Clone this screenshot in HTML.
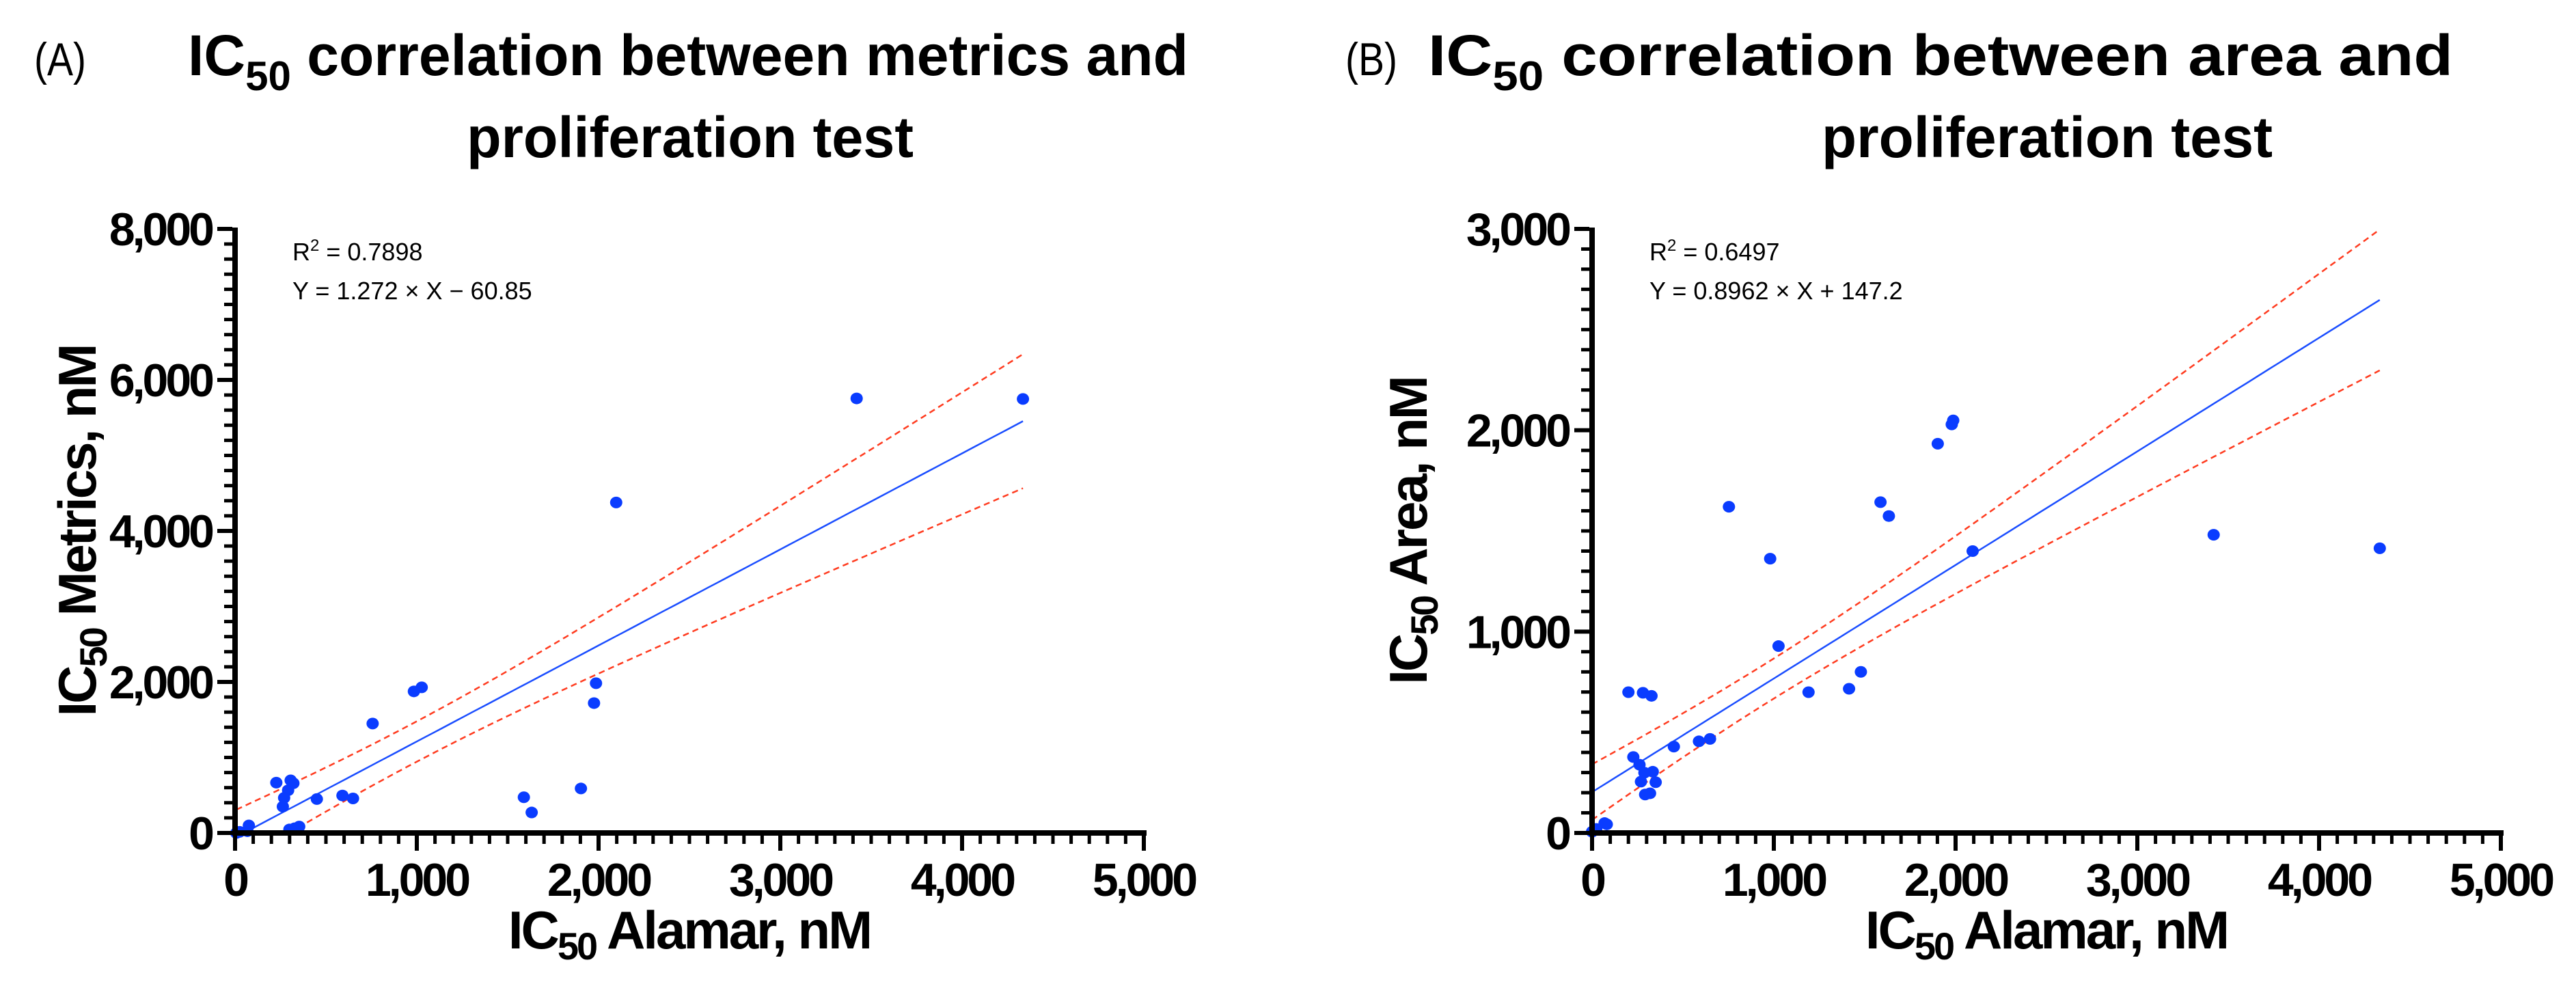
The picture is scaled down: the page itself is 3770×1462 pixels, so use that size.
<!DOCTYPE html>
<html><head><meta charset="utf-8">
<style>
html,body{margin:0;padding:0;background:#fff;}
svg{display:block;font-family:"Liberation Sans",Arial,sans-serif;}
</style></head>
<body>
<svg id="fig" width="3770" height="1462" viewBox="0 0 3770 1462" xmlns="http://www.w3.org/2000/svg">
<defs>
<clipPath id="clipA"><rect x="344" y="330" width="1340" height="889"/></clipPath>
<clipPath id="clipB"><rect x="2330" y="330" width="1340" height="889"/></clipPath>
</defs>
<g>
<text x="50" y="110" font-size="68" textLength="76" lengthAdjust="spacingAndGlyphs">(A)</text>
<text x="275" y="110" font-size="84" font-weight="bold" textLength="1464" lengthAdjust="spacingAndGlyphs">IC<tspan dy="22" font-size="60">50</tspan><tspan dy="-22"> correlation between metrics and</tspan></text>
<text x="683" y="230" font-size="84" font-weight="bold" textLength="654" lengthAdjust="spacingAndGlyphs">proliferation test</text>
</g>
<g>
<text x="1969" y="110" font-size="68" textLength="76" lengthAdjust="spacingAndGlyphs">(B)</text>
<text x="2090" y="110" font-size="84" font-weight="bold" textLength="1500" lengthAdjust="spacingAndGlyphs">IC<tspan dy="22" font-size="60">50</tspan><tspan dy="-22"> correlation between area and</tspan></text>
<text x="2666" y="230" font-size="84" font-weight="bold" textLength="660" lengthAdjust="spacingAndGlyphs">proliferation test</text>
</g>
<g id="chartA"></g>
<g id="chartB"></g>
</svg>
<script>
// ---- Panel A data ----
const xA = [7,25,76,68,227,263,270,292,306,321,299,328,353,450,591,649,757,984,1027,1589,1632,1903,1975,1986,2097,3420,4335];
const yA = [0,15,100,23,666,349,465,565,697,658,46,62,85,449,496,457,1449,1875,1929,473,271,589,1720,1983,4377,5755,5748];
const fitA = [1.272, -60.85];
const xTicksA = [0,1000,2000,3000,4000,5000];
const xTickLabelsA = ["0","1,000","2,000","3,000","4,000","5,000"];
const yTicksA = [0,2000,4000,6000,8000];
const yTickLabelsA = ["0","2,000","4,000","6,000","8,000"];
const statsA = ["R² = 0.7898","Y = 1.272 × X − 60.85"];
// ---- Panel B data ----
const xB = [0,23,69,81,200,280,327,227,261,288,334,269,350,292,319,450,588,649,753,980,1026,1191,1414,1479,1587,1633,1902,1979,1987,2094,3420,4334];
const yB = [6,20,49,43,699,696,681,377,339,299,304,255,252,191,197,429,455,467,1620,1362,928,699,716,800,1643,1574,1933,2029,2049,1400,1481,1414];
const fitB = [0.564, 203];
const xTicksB = [0,1000,2000,3000,4000,5000];
const xTickLabelsB = ["0","1,000","2,000","3,000","4,000","5,000"];
const yTicksB = [0,1000,2000,3000];
const yTickLabelsB = ["0","1,000","2,000","3,000"];
const statsB = ["R² = 0.6497","Y = 0.8962 × X + 147.2"];

const NS = "http://www.w3.org/2000/svg";
function mk(parent, tag, attrs){
  const e = document.createElementNS(NS, tag);
  for (const k in attrs) e.setAttribute(k, attrs[k]);
  parent.appendChild(e);
  return e;
}

function drawPanel(cfg){
  const g = document.getElementById(cfg.id);
  const X0 = cfg.left, Y0 = 1219, W = 1330, H = 884;
  const sx = v => X0 + v / cfg.xMax * W;
  const sy = v => Y0 - v / cfg.yMax * H;
  const xs = cfg.xs, ys = cfg.ys, n = xs.length;
  const b = cfg.fit[0], a = cfg.fit[1];
  let mx=0; for(let i=0;i<n;i++){mx+=xs[i];} mx/=n;
  let sxx=0; for(let i=0;i<n;i++){sxx+=(xs[i]-mx)**2;}
  let sse=0; for(let i=0;i<n;i++){sse+=(ys[i]-a-b*xs[i])**2;}
  const se = Math.sqrt(sse/(n-2)), t = cfg.t;
  const xmin = Math.min(...xs), xmax = Math.max(...xs);
  let up=[], lo=[], ln=[];
  for(let k=0;k<=100;k++){
    const xv = xmin + (xmax-xmin)*k/100;
    const yv = a + b*xv;
    const h = t*se*Math.sqrt(1/n + (xv-mx)**2/sxx);
    ln.push([sx(xv),sy(yv)]); up.push([sx(xv),sy(yv+h)]); lo.push([sx(xv),sy(yv-h)]);
  }
  const pts = arr => arr.map(p=>p[0].toFixed(1)+","+p[1].toFixed(1)).join(" ");
  const fitG = mk(g,"g",{"clip-path":"url(#"+cfg.clip+")"});
  
  
  const u = mk(fitG,"polyline",{points:pts(up),fill:"none",stroke:"#ff3b1f","stroke-width":"2.5","stroke-dasharray":"9 6"});
  
  
  const l = mk(fitG,"polyline",{points:pts(lo),fill:"none",stroke:"#ff3b1f","stroke-width":"2.5","stroke-dasharray":"9 6"});
  
  
  const r = mk(fitG,"polyline",{points:pts(ln),fill:"none",stroke:"#1a4dff","stroke-width":"2.5"});
  
  
  for(let i=0;i<n;i++){
    const c = mk(g,"ellipse",{cx:sx(xs[i]),cy:sy(ys[i]),rx:"9",ry:"8.5",fill:"#0a3cff"});
    
    
  }
  const ax = mk(g,"g",{});
  
  
  mk(ax,"line",{x1:X0,y1:Y0+4,x2:X0,y2:sy(cfg.yMax)-2,stroke:"#000","stroke-width":"8"});
  mk(ax,"line",{x1:X0-4,y1:Y0,x2:sx(cfg.xMax)+4,y2:Y0,stroke:"#000","stroke-width":"8"});
  for(let v=0; v<=cfg.yMax+1e-6; v+=cfg.yMinor){
    const major = cfg.yTicks.some(t=>Math.abs(t-v)<1e-6);
    mk(ax,"line",{x1:X0-4,x2:X0-(major?26:16),y1:sy(v),y2:sy(v),stroke:"#000","stroke-width":major?"6":"5"});
  }
  for(let v=0; v<=cfg.xMax+1e-6; v+=cfg.xMinor){
    const major = cfg.xTicks.some(t=>Math.abs(t-v)<1e-6);
    mk(ax,"line",{x1:sx(v),x2:sx(v),y1:Y0+4,y2:Y0+(major?26:16),stroke:"#000","stroke-width":major?"6":"5"});
  }
  cfg.yTicks.forEach((v,i)=>{
    const tx = mk(ax,"text",{x:X0-34,y:sy(v)+24,"font-size":"68","font-weight":"bold","text-anchor":"end","letter-spacing":"-4"});
    tx.textContent = cfg.yLabels[i];
    
    
  });
  cfg.xTicks.forEach((v,i)=>{
    const tx = mk(ax,"text",{x:sx(v),y:Y0+92,"font-size":"68","font-weight":"bold","text-anchor":"middle","letter-spacing":"-4"});
    tx.textContent = cfg.xLabels[i];
    
    
  });
  const xt = mk(g,"text",{x:X0+W/2,y:1388,"font-size":"78","font-weight":"bold","text-anchor":"middle","letter-spacing":"-3"});
  xt.innerHTML = 'IC<tspan dy="16" font-size="56">50</tspan><tspan dy="-16"> Alamar, nM</tspan>';
  
  
  const yt = mk(g,"text",{x:0,y:0,"font-size":"78","font-weight":"bold","text-anchor":"middle","letter-spacing":"-3",transform:"translate("+(cfg.yTitleX)+","+(Y0-H/2)+") rotate(-90)"});
  yt.innerHTML = 'IC<tspan dy="16" font-size="56">50</tspan><tspan dy="-16"> '+cfg.yTitle+'</tspan>';
  
  
  cfg.stats.forEach((s,i)=>{
    const st = mk(g,"text",{x:X0+84,y:381+i*57,"font-size":"36"});
    if(i===0){ st.innerHTML = 'R<tspan dy="-14" font-size="24">2</tspan><tspan dy="14">'+s.slice(2)+'</tspan>'; }
    else st.textContent = s;
    
    
  });
}

drawPanel({id:"chartA",clip:"clipA",left:344,xs:xA,ys:yA,fit:fitA,t:1.7,xMax:5000,yMax:8000,xTicks:xTicksA,xLabels:xTickLabelsA,yTicks:yTicksA,yLabels:yTickLabelsA,xMinor:100,yMinor:200,yTitle:"Metrics, nM",yTitleX:140,stats:statsA});
drawPanel({id:"chartB",clip:"clipB",left:2330,xs:xB,ys:yB,fit:fitB,t:1.25,xMax:5000,yMax:3000,xTicks:xTicksB,xLabels:xTickLabelsB,yTicks:yTicksB,yLabels:yTickLabelsB,xMinor:100,yMinor:100,yTitle:"Area, nM",yTitleX:2088,stats:statsB});
</script>
</body></html>
